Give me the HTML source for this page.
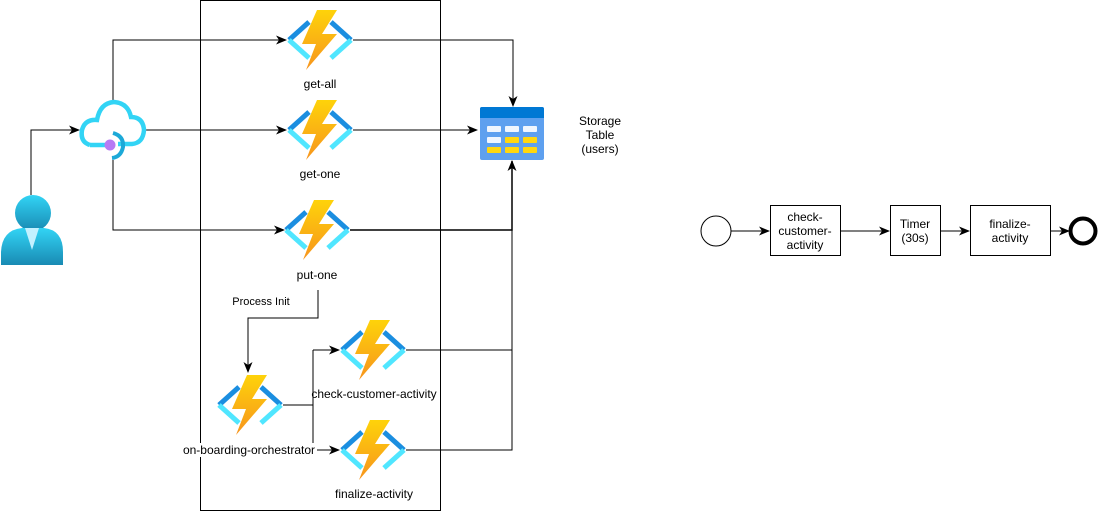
<!DOCTYPE html>
<html><head><meta charset="utf-8"><style>
html,body{margin:0;padding:0;background:#fff;}
svg{display:block;font-family:"Liberation Sans",Arial,sans-serif;}
</style></head><body>
<svg width="1098" height="511" viewBox="0 0 1098 511" xmlns="http://www.w3.org/2000/svg">
<defs>
<marker id="a" markerWidth="12" markerHeight="12" refX="10" refY="6" orient="auto" markerUnits="userSpaceOnUse">
<path d="M0,1.5 L11,6 L0,10.5 L3,6 Z" fill="#000"/></marker>
<linearGradient id="bolt" x1="0" y1="0" x2="0" y2="1"><stop offset="0" stop-color="#fed30a"/><stop offset="1" stop-color="#f7941d"/></linearGradient>
<linearGradient id="per" x1="0" y1="0" x2="0" y2="1"><stop offset="0" stop-color="#32d4f5"/><stop offset="1" stop-color="#198ab3"/></linearGradient>
<g id="fn">
<path d="M-31,0 L-11,-18" stroke="#1b8ee0" stroke-width="5"/>
<path d="M-31,0 L-11,18" stroke="#50e6ff" stroke-width="5"/>
<path d="M31,0 L11,-18" stroke="#1b8ee0" stroke-width="5"/>
<path d="M31,0 L11,18" stroke="#50e6ff" stroke-width="5"/>
<polygon points="-3,-30 17,-30 2,-6 17,-6 -14,30 -4,4 -18,4" fill="url(#bolt)"/>
</g>
</defs>
<rect x="200.5" y="0.5" width="240" height="510" fill="none" stroke="#000"/>
<g fill="none" stroke="#000" stroke-width="1">
<path d="M31,195 V130 H79" marker-end="url(#a)"/>
<path d="M113,100 V40 H286" marker-end="url(#a)"/>
<path d="M145,130 H286" marker-end="url(#a)"/>
<path d="M113,160 V230 H284" marker-end="url(#a)"/>
<path d="M353,40 H513 V106" marker-end="url(#a)"/>
<path d="M353,130 H477" marker-end="url(#a)"/>
<path d="M350,230 H512 V161" marker-end="url(#a)" stroke-width="1.5"/>
<path d="M406,350 H512 V230"/>
<path d="M406,450 H512 V350"/>
<path d="M318,290 V318 H248 V372" marker-end="url(#a)"/>
<path d="M283,405 H313"/>
<path d="M313,350 V450"/>
<path d="M313,350 H339" marker-end="url(#a)"/>
<path d="M313,450 H339" marker-end="url(#a)"/>
<path d="M731,231 H769" marker-end="url(#a)"/>
<path d="M840,231 H889" marker-end="url(#a)"/>
<path d="M940,231 H969" marker-end="url(#a)"/>
<path d="M1050,231 H1069" marker-end="url(#a)"/>
</g>
<!-- person -->
<circle cx="33" cy="213" r="18" fill="url(#per)"/>
<path d="M1,265 V252 Q2,230 22,228 L44,228 Q63,230 63,252 V265 Z" fill="url(#per)"/>
<path d="M25,228 L32,250 L39,228 Z" fill="#c3f1ff"/>
<!-- cloud -->
<path d="M90,145 Q80,142 82,130 Q85,119 97,120 Q100,103 114,102 Q128,103 131,117 Q143,117 144,130 Q143,143 132,144 L118,144" fill="none" stroke="#32d4f5" stroke-width="4.5"/>
<path d="M90,145 L105,145" stroke="#32d4f5" stroke-width="4.5"/>
<path d="M113,133 Q124,136 123,147 Q121,157 112,158" fill="none" stroke="#1ca9d8" stroke-width="4"/>
<circle cx="110" cy="145" r="5.5" fill="#b77af4"/>
<!-- functions -->
<use href="#fn" x="320" y="40"/>
<use href="#fn" x="320" y="130"/>
<use href="#fn" x="317" y="230"/>
<use href="#fn" x="373" y="350"/>
<use href="#fn" x="373" y="450"/>
<use href="#fn" x="250" y="405"/>
<!-- table -->
<rect x="480" y="107" width="64" height="53" rx="2" fill="#5ea0ef"/>
<path d="M480,109 Q480,107 482,107 H542 Q544,107 544,109 V118 H480 Z" fill="#0078d4"/>
<g fill="#f0f6fe"><rect x="487" y="126" width="14" height="6" rx="1"/><rect x="505" y="126" width="14" height="6" rx="1"/><rect x="523" y="126" width="14" height="6" rx="1"/><rect x="487" y="137" width="14" height="6" rx="1"/></g>
<g fill="#ffd70f"><rect x="505" y="137" width="14" height="6" rx="1"/><rect x="523" y="137" width="14" height="6" rx="1"/><rect x="487" y="147" width="14" height="6" rx="1"/><rect x="505" y="147" width="14" height="6" rx="1"/><rect x="523" y="147" width="14" height="6" rx="1"/></g>
<!-- labels -->
<g font-size="12" fill="#000" text-anchor="middle">
<text x="320" y="88">get-all</text>
<text x="320" y="178">get-one</text>
<rect x="294" y="267" width="48" height="14" fill="#fff"/>
<text x="317" y="279">put-one</text>
<text x="261" y="305" font-size="11">Process Init</text>
<text x="374" y="398">check-customer-activity</text>
<text x="374" y="498">finalize-activity</text>
<rect x="182" y="443" width="135" height="14" fill="#fff"/>
<text x="249" y="454">on-boarding-orchestrator</text>
<text x="600" y="125">Storage</text>
<text x="600" y="139">Table</text>
<text x="600" y="153">(users)</text>
</g>
<!-- BPMN -->
<circle cx="716" cy="231" r="15" fill="#fff" stroke="#000"/>
<rect x="770.5" y="205.5" width="70" height="50" fill="#fff" stroke="#000"/>
<rect x="890.5" y="205.5" width="50" height="50" fill="#fff" stroke="#000"/>
<rect x="970.5" y="205.5" width="80" height="50" fill="#fff" stroke="#000"/>
<circle cx="1083" cy="231" r="12.5" fill="#fff" stroke="#000" stroke-width="4"/>
<g font-size="12" text-anchor="middle">
<text x="805" y="221">check-</text><text x="805" y="235">customer-</text><text x="805" y="249">activity</text>
<text x="915" y="228">Timer</text><text x="915" y="242">(30s)</text>
<text x="1010" y="228">finalize-</text><text x="1010" y="242">activity</text>
</g>
</svg>
</body></html>
